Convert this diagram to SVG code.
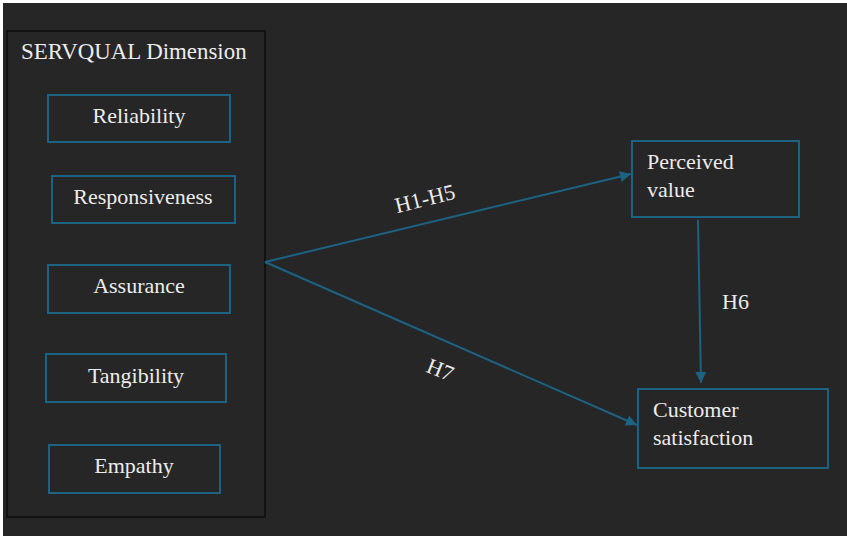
<svg xmlns="http://www.w3.org/2000/svg" width="847" height="536" viewBox="0 0 847 536">
  <defs>
    <style>
      text { font-family: 'Liberation Serif', 'Times New Roman', 'DejaVu Serif', serif; font-size: 22px; fill: #ececec; }
      .box { fill: none; stroke: #1b6283; stroke-width: 2; }
      .link { fill: none; stroke: #1b6283; stroke-width: 2; }
    </style>
    <marker id="arrow" viewBox="0 0 10 10" refX="10" refY="5" markerWidth="6" markerHeight="5.5" markerUnits="strokeWidth" orient="auto">
      <path d="M0,0 L10,5 L0,10 Z" fill="#1b6283"/>
    </marker>
  </defs>

  <!-- page and canvas -->
  <rect x="0" y="0" width="847" height="536" fill="#ffffff"/>
  <rect x="3" y="3" width="844" height="533" fill="#262626"/>

  <g font-family="Liberation Serif, Times New Roman, serif">
  <!-- SERVQUAL container -->
  <g id="servqual">
    <rect x="7" y="31" width="258" height="486" fill="none" stroke="#0e0e0e" stroke-width="1.5"/>
    <text x="21" y="59" style="font-size:22.9px">SERVQUAL Dimension</text>
  </g>

  <g id="reliability">
    <rect class="box" x="48" y="95" width="182" height="47"/>
    <text x="139" y="123" text-anchor="middle">Reliability</text>
  </g>
  <g id="responsiveness">
    <rect class="box" x="52" y="176" width="183" height="47"/>
    <text x="143" y="204" text-anchor="middle">Responsiveness</text>
  </g>
  <g id="assurance">
    <rect class="box" x="48" y="265" width="182" height="48"/>
    <text x="139" y="293" text-anchor="middle">Assurance</text>
  </g>
  <g id="tangibility">
    <rect class="box" x="46" y="354" width="180" height="48"/>
    <text x="136" y="383" text-anchor="middle">Tangibility</text>
  </g>
  <g id="empathy">
    <rect class="box" x="49" y="445" width="171" height="48"/>
    <text x="134" y="473" text-anchor="middle">Empathy</text>
  </g>

  <g id="perceived-value">
    <rect class="box" x="632" y="141" width="167" height="76"/>
    <text x="647" y="169">Perceived</text>
    <text x="647" y="197">value</text>
  </g>

  <g id="customer-satisfaction">
    <rect class="box" x="638" y="389" width="190" height="79"/>
    <text x="653" y="417">Customer</text>
    <text x="653" y="445">satisfaction</text>
  </g>

  <!-- hypothesis paths -->
  <g id="connectors">
    <line class="link" x1="265" y1="262" x2="631" y2="174" marker-end="url(#arrow)"/>
    <line class="link" x1="265" y1="262" x2="637" y2="425" marker-end="url(#arrow)"/>
    <line class="link" x1="698" y1="220" x2="701" y2="383" marker-end="url(#arrow)"/>
    <text x="425" y="206" text-anchor="middle" transform="rotate(-14 425 199)">H1-H5</text>
    <text x="440" y="377" text-anchor="middle" transform="rotate(22 440 370)">H7</text>
    <text x="722" y="309">H6</text>
  </g>
  </g>
</svg>
